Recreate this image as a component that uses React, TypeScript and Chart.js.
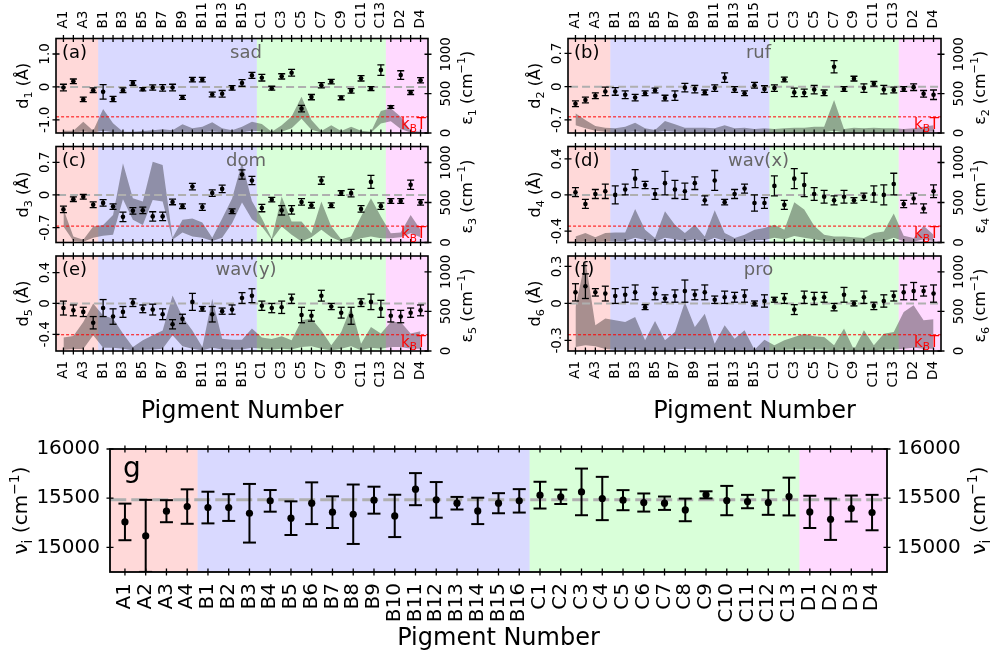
import React, { useEffect, useRef } from "react";
import { Chart, registerables } from "chart.js";

Chart.register(...registerables);

const FONT = "'DejaVu Sans', 'Liberation Sans', sans-serif";

// ---------------- data ----------------
const categories = [
  "A1", "A2", "A3", "A4",
  "B1", "B2", "B3", "B4", "B5", "B6", "B7", "B8", "B9", "B10", "B11", "B12", "B13", "B14", "B15", "B16",
  "C1", "C2", "C3", "C4", "C5", "C6", "C7", "C8", "C9", "C10", "C11", "C12", "C13",
  "D1", "D2", "D3", "D4",
];
const groupSizes = [4, 16, 13, 4];
const groupColors = ["rgba(255,0,0,0.15)", "rgba(0,0,255,0.15)", "rgba(0,255,0,0.15)", "rgba(255,0,255,0.15)"];

const modeNames = ["sad", "ruf", "dom", "wav(x)", "wav(y)", "pro"];
const panelTags = ["(a)", "(b)", "(c)", "(d)", "(e)", "(f)"];
const kBT = 205;

// (a) sad
const d1 = [-0.02, 0.17, -0.38, -0.1, -0.15, -0.37, -0.1, 0.12, -0.07, -0.02, -0.03, -0.02, -0.32, 0.22, 0.22, -0.23, -0.21, -0.03, 0.12, 0.35, 0.28, -0.04, 0.32, 0.43, -0.66, -0.31, 0.05, 0.16, -0.33, -0.12, 0.26, -0.05, 0.51, -0.61, 0.36, -0.17, 0.2];
const d1Err = [0.1, 0.07, 0.07, 0.07, 0.22, 0.08, 0.07, 0.07, 0.05, 0.08, 0.1, 0.1, 0.06, 0.07, 0.07, 0.07, 0.1, 0.07, 0.1, 0.09, 0.1, 0.06, 0.08, 0.1, 0.1, 0.08, 0.08, 0.07, 0.06, 0.07, 0.08, 0.06, 0.16, 0.04, 0.13, 0.06, 0.08];
const eps1Low = [5, 5, 20, 5, 30, 10, 3, 3, 5, 5, 8, 5, 15, 10, 10, 20, 10, 5, 10, 30, 20, 3, 15, 60, 180, 40, 5, 15, 5, 10, 5, 3, 120, 150, 50, 5, 3];
const eps1High = [30, 30, 144, 30, 305, 123, 17, 17, 25, 35, 47, 35, 110, 60, 80, 135, 60, 35, 80, 144, 115, 17, 100, 208, 460, 165, 25, 100, 25, 80, 30, 17, 280, 313, 207, 30, 17];

// (b) ruf
const d2 = [-0.36, -0.28, -0.19, -0.1, -0.1, -0.17, -0.23, -0.14, -0.08, -0.24, -0.19, -0.02, -0.05, -0.12, -0.03, 0.19, -0.06, -0.14, 0.03, -0.05, -0.03, 0.15, -0.12, -0.13, -0.06, -0.13, 0.42, -0.05, 0.17, -0.03, 0.06, -0.06, -0.07, -0.05, -0.01, -0.15, -0.17];
const d2Err = [0.06, 0.06, 0.06, 0.09, 0.08, 0.08, 0.07, 0.05, 0.05, 0.06, 0.1, 0.09, 0.08, 0.05, 0.07, 0.1, 0.06, 0.05, 0.06, 0.07, 0.07, 0.05, 0.09, 0.08, 0.09, 0.06, 0.13, 0.05, 0.05, 0.09, 0.05, 0.09, 0.06, 0.05, 0.07, 0.07, 0.1];
const eps2Low = [100, 59, 30, 17, 8, 10, 20, 8, 5, 25, 15, 8, 8, 8, 8, 15, 8, 8, 5, 8, 5, 8, 8, 8, 10, 10, 30, 5, 8, 8, 8, 8, 8, 5, 8, 10, 20];
const eps2High = [250, 165, 89, 68, 59, 80, 131, 59, 38, 152, 110, 68, 68, 68, 59, 100, 59, 68, 50, 59, 50, 59, 68, 68, 80, 80, 420, 50, 68, 59, 68, 59, 59, 50, 59, 80, 100];

// (c) dom
const d3 = [-0.31, -0.09, -0.04, -0.21, -0.17, -0.25, -0.47, -0.34, -0.33, -0.46, -0.46, -0.15, -0.24, 0.18, -0.26, 0.04, 0.13, -0.35, 0.44, 0.31, -0.28, -0.1, -0.33, -0.32, -0.15, -0.22, 0.31, -0.22, 0.04, 0.04, -0.3, 0.28, -0.24, -0.13, -0.13, 0.22, -0.16];
const d3Err = [0.07, 0.05, 0.05, 0.06, 0.07, 0.06, 0.1, 0.07, 0.07, 0.1, 0.09, 0.06, 0.05, 0.07, 0.07, 0.07, 0.08, 0.05, 0.1, 0.09, 0.08, 0.05, 0.1, 0.09, 0.07, 0.06, 0.08, 0.05, 0.05, 0.08, 0.07, 0.14, 0.07, 0.05, 0.05, 0.1, 0.06];
const eps3Low = [200, 20, 10, 60, 83, 96, 540, 283, 220, 532, 512, 33, 125, 75, 60, 20, 60, 240, 500, 290, 200, 33, 200, 96, 12, 67, 158, 67, 12, 12, 54, 75, 54, 54, 67, 116, 67];
const eps3High = [420, 75, 33, 200, 220, 345, 990, 553, 512, 1010, 970, 60, 283, 300, 250, 60, 300, 550, 1000, 520, 304, 54, 574, 262, 262, 116, 512, 200, 42, 75, 324, 553, 324, 116, 125, 345, 158];

// (d) wav(x)
const d4 = [0.03, -0.1, 0.01, 0.04, 0, 0.06, 0.18, 0.11, 0.01, 0.13, 0.06, 0.04, 0.13, -0.06, 0.16, -0.08, 0.01, 0.07, -0.09, -0.09, 0.1, -0.11, 0.18, 0.11, 0.01, -0.02, -0.06, -0.02, -0.06, -0.02, 0.01, 0, 0.12, -0.1, -0.04, -0.15, 0.04];
const d4Err = [0.05, 0.05, 0.05, 0.08, 0.1, 0.06, 0.1, 0.04, 0.06, 0.13, 0.1, 0.09, 0.07, 0.05, 0.11, 0.03, 0.05, 0.05, 0.09, 0.06, 0.11, 0.05, 0.11, 0.13, 0.07, 0.07, 0.05, 0.07, 0.03, 0.04, 0.09, 0.11, 0.12, 0.04, 0.06, 0.05, 0.07];
const eps4Low = [10, 20, 10, 20, 20, 20, 60, 30, 10, 60, 40, 20, 40, 10, 60, 20, 10, 15, 30, 30, 60, 40, 80, 60, 40, 20, 15, 15, 10, 10, 20, 20, 60, 15, 10, 40, 20];
const eps4High = [76, 118, 67, 118, 126, 126, 420, 160, 55, 390, 223, 118, 223, 76, 403, 118, 55, 97, 160, 180, 223, 160, 504, 412, 210, 97, 76, 76, 67, 55, 118, 139, 361, 84, 55, 210, 97];

// (e) wav(y)
const d5 = [-0.06, -0.09, -0.11, -0.25, -0.06, -0.17, -0.11, 0.01, -0.07, -0.08, -0.14, -0.27, -0.2, 0.02, -0.07, -0.14, -0.1, -0.08, 0.07, 0.1, -0.03, -0.06, -0.05, 0.06, -0.15, -0.16, 0.1, -0.04, -0.12, -0.16, 0.01, 0.02, -0.07, -0.16, -0.17, -0.12, -0.09];
const d5Err = [0.09, 0.07, 0.06, 0.08, 0.11, 0.1, 0.07, 0.05, 0.05, 0.07, 0.07, 0.06, 0.06, 0.11, 0.03, 0.1, 0.04, 0.06, 0.07, 0.09, 0.06, 0.06, 0.08, 0.06, 0.1, 0.07, 0.07, 0.04, 0.07, 0.11, 0.05, 0.1, 0.11, 0.08, 0.08, 0.06, 0.07];
const eps5Low = [17, 25, 25, 200, 40, 40, 30, 10, 15, 20, 30, 200, 60, 30, 10, 40, 20, 20, 20, 40, 30, 20, 30, 20, 50, 60, 30, 10, 30, 60, 10, 40, 30, 50, 50, 30, 30];
const eps5High = [169, 190, 367, 600, 450, 410, 220, 50, 135, 200, 260, 700, 430, 260, 50, 660, 155, 143, 143, 283, 169, 152, 186, 135, 388, 410, 260, 72, 240, 557, 93, 304, 220, 367, 367, 220, 249];

// (f) pro
const d6 = [0.09, 0.14, 0.09, 0.08, 0.06, 0.07, 0.09, -0.03, 0.08, 0.04, 0.06, 0.1, 0.07, 0.09, 0.03, 0.05, 0.05, 0.06, 0, 0.02, 0.03, 0.04, -0.05, 0.05, 0.04, 0.05, -0.03, 0.07, 0, 0.05, -0.02, 0.02, 0.06, 0.09, 0.1, 0.1, 0.08];
const d6Err = [0.07, 0.1, 0.03, 0.06, 0.06, 0.06, 0.06, 0.02, 0.05, 0.03, 0.05, 0.09, 0.04, 0.06, 0.03, 0.05, 0.04, 0.05, 0.02, 0.05, 0.02, 0.04, 0.04, 0.05, 0.05, 0.04, 0.03, 0.06, 0.02, 0.05, 0.03, 0.05, 0.04, 0.06, 0.07, 0.04, 0.07];
const eps6Low = [50, 72, 60, 25, 15, 15, 20, 10, 15, 10, 15, 30, 20, 20, 8, 15, 10, 15, 5, 10, 10, 15, 20, 20, 20, 20, 10, 20, 5, 15, 10, 20, 20, 30, 40, 30, 30];
const eps6High = [557, 1148, 325, 409, 388, 367, 430, 135, 380, 135, 240, 620, 304, 472, 93, 325, 156, 262, 17, 143, 72, 135, 177, 219, 186, 177, 72, 283, 17, 262, 72, 219, 240, 494, 578, 388, 400];

// (g) site energies
const nu = [15259, 15117, 15368, 15415, 15405, 15405, 15347, 15473, 15297, 15449, 15358, 15337, 15480, 15320, 15592, 15483, 15449, 15371, 15449, 15473, 15531, 15514, 15564, 15497, 15480, 15456, 15449, 15381, 15534, 15476, 15466, 15456, 15517, 15361, 15286, 15395, 15354];
const nuErr = [186, 366, 112, 175, 161, 136, 298, 110, 171, 212, 161, 302, 137, 215, 163, 181, 64, 134, 102, 119, 136, 73, 237, 220, 102, 92, 68, 115, 36, 149, 68, 125, 192, 164, 210, 132, 180];
const nuMean = 15485;

const dTicks = [[-1, 0, 1], [-0.7, 0, 0.7], [-0.7, 0, 0.7], [-0.4, 0, 0.4], [-0.4, 0, 0.4], [-0.3, 0, 0.3]];
const dTickLabels = [["-1.0", "0", "1.0"], ["-0.7", "0", "0.7"], ["-0.7", "0", "0.7"], ["-0.4", "0", "0.4"], ["-0.4", "0", "0.4"], ["-0.3", "0", "0.3"]];
const epsTicks = [0, 500, 1000];
const epsTickLabels = ["0", "500", "1000"];
const nuTicks = [15000, 15500, 16000];
const nuTickLabels = ["15000", "15500", "16000"];

// ---------------- layout (not data) ----------------
type Seg = { t: string; s?: "sub" | "sup" };
interface Panel {
  key: string;
  box: [number, number, number, number];
  xr: [number, number];
  yr: [number, number];
  yTicks: number[];
  yTickLabels: string[];
  d: number[];
  err: number[];
  ref: number;
  lo?: number[];
  hi?: number[];
  tag: string;
  mode?: string;
  n?: number;
  top?: boolean;
  bottom?: boolean;
  big?: boolean;
}

const dSeries = [d1, d2, d3, d4, d5, d6];
const dErrs = [d1Err, d2Err, d3Err, d4Err, d5Err, d6Err];
const epsLows = [eps1Low, eps2Low, eps3Low, eps4Low, eps5Low, eps6Low];
const epsHighs = [eps1High, eps2High, eps3High, eps4High, eps5High, eps6High];
const boxes: [number, number, number, number][] = [
  [56, 38.5, 428, 133],
  [568, 38.5, 941, 133],
  [56, 146.5, 428, 242.5],
  [568, 146.5, 941, 242.5],
  [56, 256, 428, 351],
  [568, 256, 941, 351],
];
const yRanges: [number, number][] = [
  [-1.4, 1.47],
  [-0.975, 1.015],
  [-1.02, 1.04],
  [-0.527, 0.536],
  [-0.616, 0.614],
  [-0.386, 0.385],
];

const panels: Panel[] = dSeries.map((d, i) => ({
  key: "p" + i,
  box: boxes[i],
  xr: [-0.75, 36.75],
  yr: yRanges[i],
  yTicks: dTicks[i],
  yTickLabels: dTickLabels[i],
  d,
  err: dErrs[i],
  ref: 0,
  lo: epsLows[i],
  hi: epsHighs[i],
  tag: panelTags[i],
  mode: modeNames[i],
  n: i + 1,
  top: i < 2,
  bottom: i >= 4,
}));
panels.push({
  key: "g",
  box: [110, 449, 887, 572],
  xr: [-0.72, 36.72],
  yr: [14750, 16000],
  yTicks: nuTicks,
  yTickLabels: nuTickLabels,
  d: nu,
  err: nuErr,
  ref: nuMean,
  tag: "g",
  bottom: true,
  big: true,
});

function drawRich(ctx: CanvasRenderingContext2D, segs: Seg[], x: number, y: number, size: number, align: string, rot: boolean, color: string) {
  ctx.save();
  ctx.translate(x, y);
  if (rot) ctx.rotate(-Math.PI / 2);
  let w = 0;
  for (const s of segs) {
    ctx.font = `${s.s ? size * 0.7 : size}px ${FONT}`;
    w += ctx.measureText(s.t).width;
  }
  let cx = align === "center" ? -w / 2 : align === "right" ? -w : 0;
  ctx.fillStyle = color;
  ctx.textBaseline = "middle";
  ctx.textAlign = "left";
  for (const s of segs) {
    const fs = s.s ? size * 0.7 : size;
    ctx.font = `${fs}px ${FONT}`;
    const dy = s.s === "sub" ? size * 0.3 : s.s === "sup" ? -size * 0.35 : 0;
    ctx.fillText(s.t, cx, dy);
    cx += ctx.measureText(s.t).width;
  }
  ctx.restore();
}

function makeChart(canvas: HTMLCanvasElement, p: Panel) {
  const [L, T, R, B] = p.box;
  const big = !!p.big;
  const errData: any[] = [];
  p.d.forEach((v, i) => {
    errData.push({ x: i, y: v - p.err[i] }, { x: i, y: v + p.err[i] }, { x: i, y: null });
  });
  const ptData = p.d.map((v, i) => ({ x: i, y: v }));
  const datasets: any[] = [
    {
      data: errData,
      borderColor: "#000",
      borderWidth: big ? 2 : 1.3,
      pointStyle: "line",
      pointRadius: big ? 6.5 : 3.5,
      pointBorderColor: "#000",
      pointBorderWidth: big ? 2 : 1.3,
      spanGaps: false,
      fill: false,
      yAxisID: "y",
    },
    {
      data: ptData,
      showLine: false,
      pointRadius: big ? 3.6 : 2.3,
      pointBackgroundColor: "#000",
      pointBorderColor: "#000",
      pointBorderWidth: 0,
      fill: false,
      yAxisID: "y",
    },
    {
      data: [{ x: p.xr[0] - 1, y: p.ref }, { x: p.xr[1] + 1, y: p.ref }],
      borderColor: "rgb(175,175,175)",
      borderWidth: big ? 3 : 2,
      borderDash: big ? [16, 5] : [8, 4],
      pointRadius: 0,
      fill: false,
      yAxisID: "y",
    },
  ];
  const scales: any = {
    x: { type: "linear", min: p.xr[0], max: p.xr[1], display: false },
    y: { type: "linear", min: p.yr[0], max: p.yr[1], display: false },
  };
  if (!big && p.lo && p.hi) {
    datasets.push(
      {
        data: [{ x: p.xr[0] - 1, y: kBT }, { x: p.xr[1] + 1, y: kBT }],
        borderColor: "rgb(255,0,0)",
        borderWidth: 1,
        borderDash: [3, 2],
        pointRadius: 0,
        fill: false,
        yAxisID: "y2",
      },
      {
        data: p.hi.map((v, i) => ({ x: i, y: v })),
        borderWidth: 0,
        borderColor: "rgba(0,0,0,0)",
        backgroundColor: "rgba(0,0,0,0.34)",
        pointRadius: 0,
        fill: "+1",
        yAxisID: "y2",
      },
      {
        data: p.lo.map((v, i) => ({ x: i, y: v })),
        borderWidth: 0,
        borderColor: "rgba(0,0,0,0)",
        pointRadius: 0,
        fill: false,
        yAxisID: "y2",
      }
    );
    scales.y2 = { type: "linear", min: 0, max: 1200, display: false };
  }

  const deco = {
    id: "deco_" + p.key,
    beforeDraw(chart: any) {
      const ctx = chart.ctx as CanvasRenderingContext2D;
      const ca = chart.chartArea;
      const xs = chart.scales.x;
      let start = 0;
      ctx.save();
      groupSizes.forEach((n, g) => {
        const x0 = g === 0 ? ca.left : xs.getPixelForValue(start - 0.5);
        const x1 = g === groupSizes.length - 1 ? ca.right : xs.getPixelForValue(start + n - 0.5);
        ctx.fillStyle = groupColors[g];
        ctx.fillRect(x0, ca.top, x1 - x0, ca.bottom - ca.top);
        start += n;
      });
      ctx.restore();
    },
    afterDraw(chart: any) {
      const ctx = chart.ctx as CanvasRenderingContext2D;
      const ca = chart.chartArea;
      const xs = chart.scales.x;
      const ys = chart.scales.y;
      const y2 = chart.scales.y2;
      const tl = 3.5;
      ctx.save();
      ctx.strokeStyle = "#000";
      ctx.lineWidth = big ? 1.8 : 1.6;
      ctx.strokeRect(ca.left, ca.top, ca.right - ca.left, ca.bottom - ca.top);
      ctx.lineWidth = 1.3;
      ctx.beginPath();
      categories.forEach((_, i) => {
        const px = xs.getPixelForValue(i);
        ctx.moveTo(px, ca.top - tl);
        ctx.lineTo(px, ca.top + tl);
        ctx.moveTo(px, ca.bottom - tl);
        ctx.lineTo(px, ca.bottom + tl);
      });
      p.yTicks.forEach((v) => {
        const py = ys.getPixelForValue(v);
        ctx.moveTo(ca.left - tl, py);
        ctx.lineTo(ca.left + tl, py);
        if (big) {
          ctx.moveTo(ca.right - tl, py);
          ctx.lineTo(ca.right + tl, py);
        }
      });
      if (y2) {
        epsTicks.forEach((v) => {
          const py = y2.getPixelForValue(v);
          ctx.moveTo(ca.right - tl, py);
          ctx.lineTo(ca.right + tl, py);
        });
      }
      ctx.stroke();

      // x tick labels
      const xfs = big ? 20 : 13.5;
      categories.forEach((c, i) => {
        if (!big && i % 2 !== 0) return;
        const px = xs.getPixelForValue(i);
        if (p.bottom) drawRich(ctx, [{ t: c }], px, ca.bottom + (big ? 11 : 10), xfs, "right", true, "#000");
        if (p.top) drawRich(ctx, [{ t: c }], px, ca.top - 10, xfs, "left", true, "#000");
      });

      if (!big) {
        // left y tick labels (rotated)
        p.yTicks.forEach((v, k) => {
          drawRich(ctx, [{ t: p.yTickLabels[k] }], ca.left - 11, ys.getPixelForValue(v), 13.5, "center", true, "#000");
        });
        epsTicks.forEach((v, k) => {
          drawRich(ctx, [{ t: epsTickLabels[k] }], ca.right + 18, y2.getPixelForValue(v), 13.5, "center", true, "#000");
        });
        const midY = (ca.top + ca.bottom) / 2;
        drawRich(ctx, [{ t: "d" }, { t: String(p.n), s: "sub" }, { t: " (Å)" }], ca.left - 32, midY, 16, "center", true, "#000");
        drawRich(ctx, [{ t: "ε" }, { t: String(p.n), s: "sub" }, { t: " (cm" }, { t: "−1", s: "sup" }, { t: ")" }], ca.right + 40, midY + 2, 16, "center", true, "#000");
        drawRich(ctx, [{ t: p.tag }], ca.left + 6, ca.top + 14.5, 18, "left", false, "#000");
        drawRich(ctx, [{ t: p.mode || "" }], (ca.left + ca.right) / 2 + 4, ca.top + 14.5, 18, "center", false, "#666");
        drawRich(ctx, [{ t: "k" }, { t: "B", s: "sub" }, { t: "T" }], ca.right - 2, ca.bottom - 8, 15, "right", false, "rgb(255,0,0)");
        if (p.bottom) {
          ctx.font = `24px ${FONT}`;
          ctx.fillStyle = "#000";
          ctx.textAlign = "center";
          ctx.textBaseline = "alphabetic";
          ctx.fillText("Pigment Number", (ca.left + ca.right) / 2, 418);
        }
      } else {
        ctx.font = `20px ${FONT}`;
        ctx.fillStyle = "#000";
        ctx.textBaseline = "middle";
        p.yTicks.forEach((v, k) => {
          const py = ys.getPixelForValue(v);
          ctx.textAlign = "right";
          ctx.fillText(p.yTickLabels[k], ca.left - 10, py);
          ctx.textAlign = "left";
          ctx.fillText(p.yTickLabels[k], ca.right + 10, py);
        });
        const midY = (ca.top + ca.bottom) / 2;
        const title: Seg[] = [{ t: "ν" }, { t: "i", s: "sub" }, { t: " (cm" }, { t: "−1", s: "sup" }, { t: ")" }];
        drawRich(ctx, title, ca.left - 88, midY, 20, "center", true, "#000");
        drawRich(ctx, title, ca.right + 93, midY, 20, "center", true, "#000");
        ctx.font = `28px ${FONT}`;
        ctx.textAlign = "left";
        ctx.textBaseline = "alphabetic";
        ctx.fillText(p.tag, ca.left + 13, ca.top + 28);
        ctx.font = `24px ${FONT}`;
        ctx.textAlign = "center";
        ctx.fillText("Pigment Number", (ca.left + ca.right) / 2, 645);
      }
      ctx.restore();
    },
  };

  return new Chart(canvas, {
    type: "line",
    data: { datasets },
    options: {
      responsive: false,
      animation: false,
      devicePixelRatio: 1,
      events: [],
      layout: { padding: { left: L, top: T, right: 992 - R, bottom: 651 - B } },
      scales,
      plugins: { legend: { display: false }, tooltip: { enabled: false } },
    } as any,
    plugins: [deco],
  });
}

export default function App() {
  const refs = useRef<(HTMLCanvasElement | null)[]>([]);
  useEffect(() => {
    const charts = panels.map((p, i) => makeChart(refs.current[i] as HTMLCanvasElement, p));
    return () => charts.forEach((c) => c.destroy());
  }, []);
  return (
    <div style={{ position: "fixed", left: 0, top: 0, width: 992, height: 651, background: "#fff", overflow: "hidden" }}>
      {panels.map((p, i) => (
        <canvas
          key={p.key}
          ref={(el) => {
            refs.current[i] = el;
          }}
          width={992}
          height={651}
          style={{ position: "absolute", left: 0, top: 0, width: 992, height: 651 }}
        />
      ))}
    </div>
  );
}
